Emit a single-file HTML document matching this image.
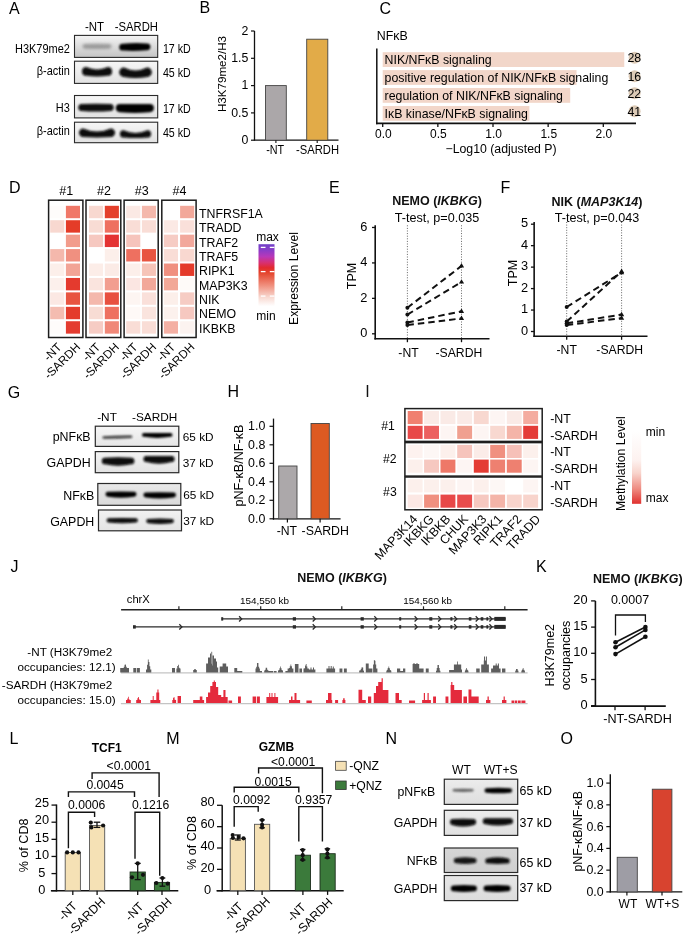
<!DOCTYPE html>
<html><head><meta charset="utf-8"><title>Figure</title>
<style>
html,body{margin:0;padding:0;background:#fff;width:685px;height:936px;overflow:hidden}
svg{display:block;font-family:"Liberation Sans",sans-serif;will-change:transform}
</style></head><body>
<svg width="685" height="936" viewBox="0 0 685 936" font-family="Liberation Sans, sans-serif"><defs><filter id="bl4" x="-20%" y="-50%" width="140%" height="200%"><feGaussianBlur stdDeviation="0.4"/></filter><filter id="bl5" x="-20%" y="-50%" width="140%" height="200%"><feGaussianBlur stdDeviation="0.5"/></filter><filter id="bl6" x="-20%" y="-50%" width="140%" height="200%"><feGaussianBlur stdDeviation="0.6"/></filter><filter id="bl7" x="-20%" y="-50%" width="140%" height="200%"><feGaussianBlur stdDeviation="0.7"/></filter><filter id="bl8" x="-20%" y="-50%" width="140%" height="200%"><feGaussianBlur stdDeviation="0.8"/></filter><filter id="bl9" x="-20%" y="-50%" width="140%" height="200%"><feGaussianBlur stdDeviation="0.9"/></filter><filter id="bl10" x="-20%" y="-50%" width="140%" height="200%"><feGaussianBlur stdDeviation="1.0"/></filter><filter id="bl11" x="-20%" y="-50%" width="140%" height="200%"><feGaussianBlur stdDeviation="1.1"/></filter><filter id="bl12" x="-20%" y="-50%" width="140%" height="200%"><feGaussianBlur stdDeviation="1.2"/></filter><filter id="bl13" x="-20%" y="-50%" width="140%" height="200%"><feGaussianBlur stdDeviation="1.3"/></filter><filter id="bl14" x="-20%" y="-50%" width="140%" height="200%"><feGaussianBlur stdDeviation="1.4"/></filter><filter id="bl15" x="-20%" y="-50%" width="140%" height="200%"><feGaussianBlur stdDeviation="1.5"/></filter><filter id="bl16" x="-20%" y="-50%" width="140%" height="200%"><feGaussianBlur stdDeviation="1.6"/></filter><filter id="bl17" x="-20%" y="-50%" width="140%" height="200%"><feGaussianBlur stdDeviation="1.7"/></filter><filter id="bl18" x="-20%" y="-50%" width="140%" height="200%"><feGaussianBlur stdDeviation="1.8"/></filter><filter id="bl19" x="-20%" y="-50%" width="140%" height="200%"><feGaussianBlur stdDeviation="1.9"/></filter><filter id="bl20" x="-20%" y="-50%" width="140%" height="200%"><feGaussianBlur stdDeviation="2.0"/></filter><filter id="bl21" x="-20%" y="-50%" width="140%" height="200%"><feGaussianBlur stdDeviation="2.1"/></filter><filter id="bl22" x="-20%" y="-50%" width="140%" height="200%"><feGaussianBlur stdDeviation="2.2"/></filter><filter id="bl23" x="-20%" y="-50%" width="140%" height="200%"><feGaussianBlur stdDeviation="2.3"/></filter><filter id="bl24" x="-20%" y="-50%" width="140%" height="200%"><feGaussianBlur stdDeviation="2.4"/></filter><filter id="bl25" x="-20%" y="-50%" width="140%" height="200%"><feGaussianBlur stdDeviation="2.5"/></filter><filter id="bl26" x="-20%" y="-50%" width="140%" height="200%"><feGaussianBlur stdDeviation="2.6"/></filter><filter id="bl27" x="-20%" y="-50%" width="140%" height="200%"><feGaussianBlur stdDeviation="2.7"/></filter><filter id="bl28" x="-20%" y="-50%" width="140%" height="200%"><feGaussianBlur stdDeviation="2.8"/></filter><filter id="bl29" x="-20%" y="-50%" width="140%" height="200%"><feGaussianBlur stdDeviation="2.9"/></filter><filter id="bl30" x="-20%" y="-50%" width="140%" height="200%"><feGaussianBlur stdDeviation="3.0"/></filter></defs><text x="9.00" y="14.20" font-size="16">A</text>
<text x="84.90" y="31.00" font-size="12" transform="matrix(0.955,0,0,1,3.821,0)">-NT</text>
<text x="114.80" y="31.00" font-size="12" transform="matrix(0.94,0,0,1,6.888,0)">-SARDH</text>
<linearGradient id="g3" x1="0" y1="0" x2="0" y2="1"><stop offset="0" stop-color="#f4f4f4"/><stop offset="1" stop-color="#c4c4c4"/></linearGradient>
<rect x="74.50" y="35.40" width="83.20" height="22.00" fill="url(#g3)" />
<linearGradient id="g5" x1="0" y1="0" x2="0" y2="1"><stop offset="0" stop-color="#f6f6f6"/><stop offset="1" stop-color="#e2e2e2"/></linearGradient>
<rect x="74.50" y="61.20" width="83.20" height="22.20" fill="url(#g5)" />
<linearGradient id="g7" x1="0" y1="0" x2="0" y2="1"><stop offset="0" stop-color="#f6f6f6"/><stop offset="1" stop-color="#e2e2e2"/></linearGradient>
<rect x="74.50" y="95.50" width="83.20" height="22.40" fill="url(#g7)" />
<linearGradient id="g9" x1="0" y1="0" x2="0" y2="1"><stop offset="0" stop-color="#f6f6f6"/><stop offset="1" stop-color="#e2e2e2"/></linearGradient>
<rect x="74.50" y="122.20" width="83.20" height="20.50" fill="url(#g9)" />
<text x="69.90" y="52.90" font-size="12.2" text-anchor="end" transform="matrix(0.9,0,0,1,6.990,0)">H3K79me2</text>
<text x="162.90" y="52.60" font-size="12" transform="matrix(0.89,0,0,1,17.919,0)">17 kD</text>
<text x="69.90" y="75.20" font-size="12.2" text-anchor="end" transform="matrix(0.9,0,0,1,6.990,0)">β-actin</text>
<text x="162.90" y="77.00" font-size="12" transform="matrix(0.89,0,0,1,17.919,0)">45 kD</text>
<text x="69.90" y="111.90" font-size="12.2" text-anchor="end" transform="matrix(0.9,0,0,1,6.990,0)">H3</text>
<text x="162.90" y="113.10" font-size="12" transform="matrix(0.89,0,0,1,17.919,0)">17 kD</text>
<text x="69.90" y="135.40" font-size="12.2" text-anchor="end" transform="matrix(0.9,0,0,1,6.990,0)">β-actin</text>
<text x="162.90" y="137.20" font-size="12" transform="matrix(0.89,0,0,1,17.919,0)">45 kD</text>
<path d="M84.84,43.96 Q97.00,43.44 109.16,43.96 A2.34,2.34 0 0 1 109.16,48.64 Q97.00,49.16 84.84,48.64 A2.34,2.34 0 0 1 84.84,43.96 Z" fill="rgb(132,132,132)" opacity="0.75" filter="url(#bl16)"/>
<path d="M122.60,43.80 Q134.80,42.40 147.00,43.40 A3.40,3.40 0 0 1 147.00,50.20 Q134.80,51.60 122.60,50.60 A3.40,3.40 0 0 1 122.60,43.80 Z" fill="rgb(5,5,5)" opacity="1.0" filter="url(#bl11)"/>
<path d="M86.17,67.03 Q97.05,71.97 107.92,67.03 A4.38,4.38 0 0 1 107.92,75.78 Q97.05,77.22 86.17,75.78 A4.38,4.38 0 0 1 86.17,67.03 Z" fill="rgb(10,10,10)" opacity="1.0" filter="url(#bl12)"/>
<path d="M123.89,67.51 Q135.50,73.39 147.11,67.51 A4.69,4.69 0 0 1 147.11,76.89 Q135.50,79.01 123.89,76.89 A4.69,4.69 0 0 1 123.89,67.51 Z" fill="rgb(7,7,7)" opacity="1.0" filter="url(#bl12)"/>
<path d="M81.81,103.89 Q96.00,103.71 110.19,103.89 A3.51,3.51 0 0 1 110.19,110.91 Q96.00,112.29 81.81,110.91 A3.51,3.51 0 0 1 81.81,103.89 Z" fill="rgb(7,7,7)" opacity="1.0" filter="url(#bl12)"/>
<path d="M119.85,104.05 Q134.85,103.75 149.85,104.05 A4.05,4.05 0 0 1 149.85,112.15 Q134.85,113.65 119.85,112.15 A4.05,4.05 0 0 1 119.85,104.05 Z" fill="rgb(5,5,5)" opacity="1.0" filter="url(#bl12)"/>
<path d="M83.20,128.49 Q97.00,134.71 110.80,128.49 A4.21,4.21 0 0 1 110.80,136.91 Q97.00,137.90 83.20,136.91 A4.21,4.21 0 0 1 83.20,128.49 Z" fill="rgb(7,7,7)" opacity="1.0" filter="url(#bl12)"/>
<path d="M123.54,130.26 Q135.50,135.54 147.46,130.26 A3.64,3.64 0 0 1 147.46,137.54 Q135.50,138.66 123.54,137.54 A3.64,3.64 0 0 1 123.54,130.26 Z" fill="rgb(10,10,10)" opacity="1.0" filter="url(#bl12)"/>
<rect x="74.50" y="35.40" width="83.20" height="22.00" fill="none" stroke="#2a2a2a" stroke-width="1.1" />
<rect x="74.50" y="61.20" width="83.20" height="22.20" fill="none" stroke="#2a2a2a" stroke-width="1.1" />
<rect x="74.50" y="95.50" width="83.20" height="22.40" fill="none" stroke="#2a2a2a" stroke-width="1.1" />
<rect x="74.50" y="122.20" width="83.20" height="20.50" fill="none" stroke="#2a2a2a" stroke-width="1.1" />
<text x="199.50" y="13.00" font-size="16">B</text>
<line x1="254.50" y1="31.00" x2="254.50" y2="140.50" stroke="#111" stroke-width="1.3" />
<line x1="253.90" y1="140.20" x2="338.50" y2="140.20" stroke="#111" stroke-width="1.3" />
<line x1="251.00" y1="140.20" x2="254.50" y2="140.20" stroke="#111" stroke-width="1.2" />
<text x="248.40" y="144.00" font-size="12.3" text-anchor="end">0</text>
<line x1="251.00" y1="112.90" x2="254.50" y2="112.90" stroke="#111" stroke-width="1.2" />
<text x="248.40" y="116.70" font-size="12.3" text-anchor="end">0.5</text>
<line x1="251.00" y1="85.60" x2="254.50" y2="85.60" stroke="#111" stroke-width="1.2" />
<text x="248.40" y="89.40" font-size="12.3" text-anchor="end">1</text>
<line x1="251.00" y1="58.30" x2="254.50" y2="58.30" stroke="#111" stroke-width="1.2" />
<text x="248.40" y="62.10" font-size="12.3" text-anchor="end">1.5</text>
<line x1="251.00" y1="31.00" x2="254.50" y2="31.00" stroke="#111" stroke-width="1.2" />
<text x="248.40" y="34.80" font-size="12.3" text-anchor="end">2</text>
<rect x="265.50" y="85.60" width="20.80" height="54.60" fill="#aba7a9" stroke="#444" stroke-width="0.9" />
<rect x="306.70" y="39.20" width="21.10" height="101.00" fill="#e2ab48" stroke="#444" stroke-width="0.9" />
<text x="225.70" y="74.00" font-size="11.6" text-anchor="middle" transform="rotate(-90 225.70 74.00)">H3K79me2/H3</text>
<text x="266.20" y="154.40" font-size="12" transform="matrix(0.9,0,0,1,26.620,0)">-NT</text>
<text x="296.00" y="154.40" font-size="12" transform="matrix(0.935,0,0,1,19.240,0)">-SARDH</text>
<line x1="275.90" y1="140.20" x2="275.90" y2="143.00" stroke="#111" stroke-width="1.1" />
<line x1="317.20" y1="140.20" x2="317.20" y2="143.00" stroke="#111" stroke-width="1.1" />
<text x="379.50" y="13.50" font-size="16">C</text>
<text x="376.80" y="39.60" font-size="12.4">NFκB</text>
<rect x="382.70" y="52.20" width="241.56" height="14.80" fill="#f2d6c9" />
<rect x="382.70" y="70.10" width="193.80" height="14.80" fill="#f2d6c9" />
<rect x="382.70" y="88.00" width="187.51" height="14.80" fill="#f2d6c9" />
<rect x="382.70" y="106.00" width="146.70" height="14.80" fill="#f2d6c9" />
<text x="384.60" y="64.30" font-size="12.35">NIK/NFκB signaling</text>
<circle cx="634.60" cy="57.80" r="6.0" fill="#dccab6" />
<text x="634.30" y="62.40" font-size="12.4" text-anchor="middle">28</text>
<text x="384.60" y="82.20" font-size="12.35">positive regulation of NIK/NFκB signaling</text>
<circle cx="634.60" cy="76.20" r="6.0" fill="#dccab6" />
<text x="634.30" y="80.80" font-size="12.4" text-anchor="middle">16</text>
<text x="384.60" y="100.10" font-size="12.35">regulation of NIK/NFκB signaling</text>
<circle cx="634.60" cy="93.20" r="6.0" fill="#dccab6" />
<text x="634.30" y="97.80" font-size="12.4" text-anchor="middle">22</text>
<text x="384.60" y="118.10" font-size="12.35">IκB kinase/NFκB signaling</text>
<circle cx="634.60" cy="111.30" r="6.0" fill="#dccab6" />
<text x="634.30" y="115.90" font-size="12.4" text-anchor="middle">41</text>
<line x1="376.80" y1="48.40" x2="376.80" y2="124.20" stroke="#111" stroke-width="1.5" />
<line x1="376.00" y1="123.30" x2="636.00" y2="123.30" stroke="#111" stroke-width="1.7" />
<line x1="382.70" y1="123.30" x2="382.70" y2="127.00" stroke="#111" stroke-width="1.3" />
<text x="383.30" y="137.60" font-size="12" text-anchor="middle">0.0</text>
<line x1="437.85" y1="123.30" x2="437.85" y2="127.00" stroke="#111" stroke-width="1.3" />
<text x="438.45" y="137.60" font-size="12" text-anchor="middle">0.5</text>
<line x1="493.00" y1="123.30" x2="493.00" y2="127.00" stroke="#111" stroke-width="1.3" />
<text x="493.60" y="137.60" font-size="12" text-anchor="middle">1.0</text>
<line x1="548.15" y1="123.30" x2="548.15" y2="127.00" stroke="#111" stroke-width="1.3" />
<text x="548.75" y="137.60" font-size="12" text-anchor="middle">1.5</text>
<line x1="603.30" y1="123.30" x2="603.30" y2="127.00" stroke="#111" stroke-width="1.3" />
<text x="603.90" y="137.60" font-size="12" text-anchor="middle">2.0</text>
<text x="501.00" y="153.20" font-size="12.3" text-anchor="middle">−Log10 (adjusted P)</text>
<text x="9.00" y="193.20" font-size="16">D</text>
<rect x="50.20" y="205.80" width="14.10" height="12.40" fill="#fefcfb" />
<rect x="50.20" y="220.23" width="14.10" height="12.40" fill="#f8d8d0" />
<rect x="50.20" y="234.66" width="14.10" height="12.40" fill="#ffffff" />
<rect x="50.20" y="249.09" width="14.10" height="12.40" fill="#f4b8ac" />
<rect x="50.20" y="263.52" width="14.10" height="12.40" fill="#fcefea" />
<rect x="50.20" y="277.95" width="14.10" height="12.40" fill="#fcf0ec" />
<rect x="50.20" y="292.38" width="14.10" height="12.40" fill="#fbe8e3" />
<rect x="50.20" y="306.81" width="14.10" height="12.40" fill="#f4bcb0" />
<rect x="50.20" y="321.24" width="14.10" height="12.40" fill="#fefcfb" />
<rect x="65.90" y="205.80" width="14.10" height="12.40" fill="#f07868" />
<rect x="65.90" y="220.23" width="14.10" height="12.40" fill="#e43c28" />
<rect x="65.90" y="234.66" width="14.10" height="12.40" fill="#f29c8c" />
<rect x="65.90" y="249.09" width="14.10" height="12.40" fill="#f09080" />
<rect x="65.90" y="263.52" width="14.10" height="12.40" fill="#f2a496" />
<rect x="65.90" y="277.95" width="14.10" height="12.40" fill="#e43a2e" />
<rect x="65.90" y="292.38" width="14.10" height="12.40" fill="#e85440" />
<rect x="65.90" y="306.81" width="14.10" height="12.40" fill="#e43c2c" />
<rect x="65.90" y="321.24" width="14.10" height="12.40" fill="#e43c30" />
<rect x="89.00" y="205.80" width="14.10" height="12.40" fill="#f8d8d0" />
<rect x="89.00" y="220.23" width="14.10" height="12.40" fill="#f8dcd4" />
<rect x="89.00" y="234.66" width="14.10" height="12.40" fill="#f6c8c0" />
<rect x="89.00" y="249.09" width="14.10" height="12.40" fill="#ffffff" />
<rect x="89.00" y="263.52" width="14.10" height="12.40" fill="#fcede8" />
<rect x="89.00" y="277.95" width="14.10" height="12.40" fill="#fae4de" />
<rect x="89.00" y="292.38" width="14.10" height="12.40" fill="#f4b8ac" />
<rect x="89.00" y="306.81" width="14.10" height="12.40" fill="#f8dcd4" />
<rect x="89.00" y="321.24" width="14.10" height="12.40" fill="#f6ccc4" />
<rect x="104.80" y="205.80" width="14.10" height="12.40" fill="#e4402c" />
<rect x="104.80" y="220.23" width="14.10" height="12.40" fill="#ee7060" />
<rect x="104.80" y="234.66" width="14.10" height="12.40" fill="#e43434" />
<rect x="104.80" y="249.09" width="14.10" height="12.40" fill="#fcefea" />
<rect x="104.80" y="263.52" width="14.10" height="12.40" fill="#fbebe6" />
<rect x="104.80" y="277.95" width="14.10" height="12.40" fill="#f29e90" />
<rect x="104.80" y="292.38" width="14.10" height="12.40" fill="#e85040" />
<rect x="104.80" y="306.81" width="14.10" height="12.40" fill="#ee7060" />
<rect x="104.80" y="321.24" width="14.10" height="12.40" fill="#f08878" />
<rect x="126.20" y="205.80" width="14.10" height="12.40" fill="#fbe9e4" />
<rect x="126.20" y="220.23" width="14.10" height="12.40" fill="#f9ddd6" />
<rect x="126.20" y="234.66" width="14.10" height="12.40" fill="#f6c4bc" />
<rect x="126.20" y="249.09" width="14.10" height="12.40" fill="#ee7060" />
<rect x="126.20" y="263.52" width="14.10" height="12.40" fill="#fcefea" />
<rect x="126.20" y="277.95" width="14.10" height="12.40" fill="#fbe6e2" />
<rect x="126.20" y="292.38" width="14.10" height="12.40" fill="#fdf5f2" />
<rect x="126.20" y="306.81" width="14.10" height="12.40" fill="#fef9f7" />
<rect x="126.20" y="321.24" width="14.10" height="12.40" fill="#f9ddd6" />
<rect x="141.90" y="205.80" width="14.10" height="12.40" fill="#f4b8ac" />
<rect x="141.90" y="220.23" width="14.10" height="12.40" fill="#f9ddd6" />
<rect x="141.90" y="234.66" width="14.10" height="12.40" fill="#ffffff" />
<rect x="141.90" y="249.09" width="14.10" height="12.40" fill="#e85440" />
<rect x="141.90" y="263.52" width="14.10" height="12.40" fill="#f6c4b8" />
<rect x="141.90" y="277.95" width="14.10" height="12.40" fill="#f2a89a" />
<rect x="141.90" y="292.38" width="14.10" height="12.40" fill="#fae0da" />
<rect x="141.90" y="306.81" width="14.10" height="12.40" fill="#fae4de" />
<rect x="141.90" y="321.24" width="14.10" height="12.40" fill="#f9ddd6" />
<rect x="163.90" y="205.80" width="14.10" height="12.40" fill="#ffffff" />
<rect x="163.90" y="220.23" width="14.10" height="12.40" fill="#fbe9e4" />
<rect x="163.90" y="234.66" width="14.10" height="12.40" fill="#f6ccc4" />
<rect x="163.90" y="249.09" width="14.10" height="12.40" fill="#f9ddd6" />
<rect x="163.90" y="263.52" width="14.10" height="12.40" fill="#f09080" />
<rect x="163.90" y="277.95" width="14.10" height="12.40" fill="#f2a898" />
<rect x="163.90" y="292.38" width="14.10" height="12.40" fill="#fcefea" />
<rect x="163.90" y="306.81" width="14.10" height="12.40" fill="#fcf1ed" />
<rect x="163.90" y="321.24" width="14.10" height="12.40" fill="#f4b0a4" />
<rect x="180.10" y="205.80" width="14.10" height="12.40" fill="#f2a89a" />
<rect x="180.10" y="220.23" width="14.10" height="12.40" fill="#fae0da" />
<rect x="180.10" y="234.66" width="14.10" height="12.40" fill="#f2a89c" />
<rect x="180.10" y="249.09" width="14.10" height="12.40" fill="#f9d8d0" />
<rect x="180.10" y="263.52" width="14.10" height="12.40" fill="#e43a2a" />
<rect x="180.10" y="277.95" width="14.10" height="12.40" fill="#fefaf8" />
<rect x="180.10" y="292.38" width="14.10" height="12.40" fill="#f6ccc4" />
<rect x="180.10" y="306.81" width="14.10" height="12.40" fill="#f6c8c0" />
<rect x="180.10" y="321.24" width="14.10" height="12.40" fill="#fcf3f0" />
<rect x="48.60" y="200.20" width="34.30" height="137.30" fill="none" stroke="#1c1c1c" stroke-width="1.5" />
<text x="66.25" y="194.60" font-size="12.5" text-anchor="middle">#1</text>
<text x="62.30" y="347.80" font-size="11.8" text-anchor="end" transform="rotate(-45 62.30 347.80)">-NT</text>
<text x="81.00" y="347.80" font-size="11.8" text-anchor="end" transform="rotate(-45 81.00 347.80)">-SARDH</text>
<rect x="86.00" y="200.20" width="34.80" height="137.30" fill="none" stroke="#1c1c1c" stroke-width="1.5" />
<text x="103.90" y="194.60" font-size="12.5" text-anchor="middle">#2</text>
<text x="101.10" y="347.80" font-size="11.8" text-anchor="end" transform="rotate(-45 101.10 347.80)">-NT</text>
<text x="119.90" y="347.80" font-size="11.8" text-anchor="end" transform="rotate(-45 119.90 347.80)">-SARDH</text>
<rect x="124.10" y="200.20" width="34.10" height="137.30" fill="none" stroke="#1c1c1c" stroke-width="1.5" />
<text x="141.65" y="194.60" font-size="12.5" text-anchor="middle">#3</text>
<text x="138.30" y="347.80" font-size="11.8" text-anchor="end" transform="rotate(-45 138.30 347.80)">-NT</text>
<text x="157.00" y="347.80" font-size="11.8" text-anchor="end" transform="rotate(-45 157.00 347.80)">-SARDH</text>
<rect x="161.80" y="200.20" width="34.30" height="137.30" fill="none" stroke="#1c1c1c" stroke-width="1.5" />
<text x="179.45" y="194.60" font-size="12.5" text-anchor="middle">#4</text>
<text x="176.00" y="347.80" font-size="11.8" text-anchor="end" transform="rotate(-45 176.00 347.80)">-NT</text>
<text x="195.20" y="347.80" font-size="11.8" text-anchor="end" transform="rotate(-45 195.20 347.80)">-SARDH</text>
<text x="199.00" y="217.90" font-size="12.35">TNFRSF1A</text>
<text x="199.00" y="232.25" font-size="12.35">TRADD</text>
<text x="199.00" y="246.60" font-size="12.35">TRAF2</text>
<text x="199.00" y="260.95" font-size="12.35">TRAF5</text>
<text x="199.00" y="275.30" font-size="12.35">RIPK1</text>
<text x="199.00" y="289.65" font-size="12.35">MAP3K3</text>
<text x="199.00" y="304.00" font-size="12.35">NIK</text>
<text x="199.00" y="318.35" font-size="12.35">NEMO</text>
<text x="199.00" y="332.70" font-size="12.35">IKBKB</text>
<linearGradient id="explg" x1="0" y1="0" x2="0" y2="1"><stop offset="0" stop-color="#7040c8"/><stop offset="0.1" stop-color="#8c3cc8"/><stop offset="0.2" stop-color="#b838b8"/><stop offset="0.3" stop-color="#d83070"/><stop offset="0.38" stop-color="#e22a2e"/><stop offset="0.46" stop-color="#e4442c"/><stop offset="0.66" stop-color="#f08e7c"/><stop offset="0.86" stop-color="#f8dad2"/><stop offset="1" stop-color="#ffffff"/></linearGradient>
<rect x="258.50" y="244.20" width="16.00" height="62.00" fill="url(#explg)" />
<line x1="260.80" y1="247.40" x2="265.50" y2="247.40" stroke="#ffffff" stroke-width="1.3" />
<line x1="269.80" y1="247.40" x2="274.50" y2="247.40" stroke="#ffffff" stroke-width="1.3" />
<line x1="260.80" y1="271.60" x2="265.50" y2="271.60" stroke="#ffffff" stroke-width="1.3" />
<line x1="269.80" y1="271.60" x2="274.50" y2="271.60" stroke="#ffffff" stroke-width="1.3" />
<line x1="260.80" y1="296.10" x2="265.50" y2="296.10" stroke="#ffffff" stroke-width="1.3" />
<line x1="269.80" y1="296.10" x2="274.50" y2="296.10" stroke="#ffffff" stroke-width="1.3" />
<text x="267.50" y="240.50" font-size="12" text-anchor="middle">max</text>
<text x="266.00" y="319.80" font-size="12" text-anchor="middle">min</text>
<text x="297.90" y="278.50" font-size="12.2" text-anchor="middle" transform="rotate(-90 297.90 278.50)">Expression Level</text>
<text x="329.00" y="193.20" font-size="16">E</text>
<line x1="375.20" y1="225.30" x2="375.20" y2="339.50" stroke="#111" stroke-width="1.6" />
<line x1="374.40" y1="338.70" x2="489.50" y2="338.70" stroke="#111" stroke-width="1.6" />
<line x1="372.00" y1="333.80" x2="375.20" y2="333.80" stroke="#111" stroke-width="1.3" />
<text x="367.30" y="337.30" font-size="12.8" text-anchor="end">0</text>
<line x1="372.00" y1="298.36" x2="375.20" y2="298.36" stroke="#111" stroke-width="1.3" />
<text x="367.30" y="301.86" font-size="12.8" text-anchor="end">2</text>
<line x1="372.00" y1="262.92" x2="375.20" y2="262.92" stroke="#111" stroke-width="1.3" />
<text x="367.30" y="266.42" font-size="12.8" text-anchor="end">4</text>
<line x1="372.00" y1="227.48" x2="375.20" y2="227.48" stroke="#111" stroke-width="1.3" />
<text x="367.30" y="230.98" font-size="12.8" text-anchor="end">6</text>
<line x1="407.40" y1="225.30" x2="407.40" y2="338.70" stroke="#555" stroke-width="0.9" stroke-dasharray="1,1.6"/>
<line x1="407.40" y1="338.70" x2="407.40" y2="342.20" stroke="#111" stroke-width="1.3" />
<line x1="461.50" y1="225.30" x2="461.50" y2="338.70" stroke="#555" stroke-width="0.9" stroke-dasharray="1,1.6"/>
<line x1="461.50" y1="338.70" x2="461.50" y2="342.20" stroke="#111" stroke-width="1.3" />
<line x1="407.40" y1="307.80" x2="461.50" y2="265.90" stroke="#111" stroke-width="2.0" stroke-dasharray="6.5,4"/>
<circle cx="407.40" cy="307.80" r="2.0" fill="#111" />
<path d="M461.50,263.10 L464.10,267.50 L458.90,267.50 Z" fill="#111"/>
<line x1="407.40" y1="314.60" x2="461.50" y2="282.00" stroke="#111" stroke-width="2.0" stroke-dasharray="6.5,4"/>
<circle cx="407.40" cy="314.60" r="2.0" fill="#111" />
<path d="M461.50,279.20 L464.10,283.60 L458.90,283.60 Z" fill="#111"/>
<line x1="407.40" y1="322.50" x2="461.50" y2="311.30" stroke="#111" stroke-width="2.0" stroke-dasharray="6.5,4"/>
<circle cx="407.40" cy="322.50" r="2.0" fill="#111" />
<path d="M461.50,308.50 L464.10,312.90 L458.90,312.90 Z" fill="#111"/>
<line x1="407.40" y1="325.00" x2="461.50" y2="318.40" stroke="#111" stroke-width="2.0" stroke-dasharray="6.5,4"/>
<circle cx="407.40" cy="325.00" r="2.0" fill="#111" />
<path d="M461.50,315.60 L464.10,320.00 L458.90,320.00 Z" fill="#111"/>
<text x="437.00" y="205.10" font-size="12.5" font-weight="bold" text-anchor="middle" fill="#111">NEMO (<tspan font-style="italic">IKBKG</tspan>)</text>
<text x="437.00" y="222.00" font-size="12.6" text-anchor="middle">T-test, p=0.035</text>
<text x="356.30" y="276.00" font-size="12.5" text-anchor="middle" transform="rotate(-90 356.30 276.00)">TPM</text>
<text x="408.50" y="356.80" font-size="12.2" text-anchor="middle">-NT</text>
<text x="458.90" y="356.80" font-size="12.2" text-anchor="middle">-SARDH</text>
<text x="500.40" y="193.00" font-size="16">F</text>
<line x1="534.15" y1="222.00" x2="534.15" y2="337.10" stroke="#111" stroke-width="1.6" />
<line x1="533.35" y1="336.30" x2="647.50" y2="336.30" stroke="#111" stroke-width="1.6" />
<line x1="530.95" y1="331.50" x2="534.15" y2="331.50" stroke="#111" stroke-width="1.3" />
<text x="528.10" y="334.70" font-size="12.8" text-anchor="end">0</text>
<line x1="530.95" y1="310.04" x2="534.15" y2="310.04" stroke="#111" stroke-width="1.3" />
<text x="528.10" y="313.24" font-size="12.8" text-anchor="end">1</text>
<line x1="530.95" y1="288.58" x2="534.15" y2="288.58" stroke="#111" stroke-width="1.3" />
<text x="528.10" y="291.78" font-size="12.8" text-anchor="end">2</text>
<line x1="530.95" y1="267.12" x2="534.15" y2="267.12" stroke="#111" stroke-width="1.3" />
<text x="528.10" y="270.32" font-size="12.8" text-anchor="end">3</text>
<line x1="530.95" y1="245.66" x2="534.15" y2="245.66" stroke="#111" stroke-width="1.3" />
<text x="528.10" y="248.86" font-size="12.8" text-anchor="end">4</text>
<line x1="530.95" y1="224.20" x2="534.15" y2="224.20" stroke="#111" stroke-width="1.3" />
<text x="528.10" y="227.40" font-size="12.8" text-anchor="end">5</text>
<line x1="566.70" y1="222.00" x2="566.70" y2="336.30" stroke="#555" stroke-width="0.9" stroke-dasharray="1,1.6"/>
<line x1="566.70" y1="336.30" x2="566.70" y2="339.80" stroke="#111" stroke-width="1.3" />
<line x1="621.60" y1="222.00" x2="621.60" y2="336.30" stroke="#555" stroke-width="0.9" stroke-dasharray="1,1.6"/>
<line x1="621.60" y1="336.30" x2="621.60" y2="339.80" stroke="#111" stroke-width="1.3" />
<line x1="566.70" y1="307.00" x2="621.60" y2="272.60" stroke="#111" stroke-width="2.0" stroke-dasharray="6.5,4"/>
<circle cx="566.70" cy="307.00" r="2.0" fill="#111" />
<path d="M621.60,269.80 L624.20,274.20 L619.00,274.20 Z" fill="#111"/>
<line x1="566.70" y1="321.60" x2="621.60" y2="271.40" stroke="#111" stroke-width="2.0" stroke-dasharray="6.5,4"/>
<circle cx="566.70" cy="321.60" r="2.0" fill="#111" />
<path d="M621.60,268.60 L624.20,273.00 L619.00,273.00 Z" fill="#111"/>
<line x1="566.70" y1="323.30" x2="621.60" y2="314.60" stroke="#111" stroke-width="2.0" stroke-dasharray="6.5,4"/>
<circle cx="566.70" cy="323.30" r="2.0" fill="#111" />
<path d="M621.60,311.80 L624.20,316.20 L619.00,316.20 Z" fill="#111"/>
<line x1="566.70" y1="325.10" x2="621.60" y2="318.10" stroke="#111" stroke-width="2.0" stroke-dasharray="6.5,4"/>
<circle cx="566.70" cy="325.10" r="2.0" fill="#111" />
<path d="M621.60,315.30 L624.20,319.70 L619.00,319.70 Z" fill="#111"/>
<text x="597.00" y="205.60" font-size="12.5" font-weight="bold" text-anchor="middle" fill="#111">NIK (<tspan font-style="italic">MAP3K14</tspan>)</text>
<text x="597.00" y="222.00" font-size="12.6" text-anchor="middle">T-test, p=0.043</text>
<text x="517.00" y="273.00" font-size="12.5" text-anchor="middle" transform="rotate(-90 517.00 273.00)">TPM</text>
<text x="566.70" y="354.40" font-size="12.2" text-anchor="middle">-NT</text>
<text x="619.70" y="354.40" font-size="12.2" text-anchor="middle">-SARDH</text>
<text x="7.80" y="397.70" font-size="16">G</text>
<text x="97.20" y="421.00" font-size="11.8">-NT</text>
<text x="132.00" y="421.00" font-size="11.8">-SARDH</text>
<linearGradient id="g262" x1="0" y1="0" x2="0" y2="1"><stop offset="0" stop-color="#f6f6f6"/><stop offset="1" stop-color="#e6e6e6"/></linearGradient>
<rect x="95.30" y="426.20" width="83.50" height="20.20" fill="url(#g262)" />
<linearGradient id="g264" x1="0" y1="0" x2="0" y2="1"><stop offset="0" stop-color="#f4f4f4"/><stop offset="1" stop-color="#e2e2e2"/></linearGradient>
<rect x="95.30" y="451.60" width="83.50" height="21.10" fill="url(#g264)" />
<linearGradient id="g266" x1="0" y1="0" x2="0" y2="1"><stop offset="0" stop-color="#e8e8e8"/><stop offset="1" stop-color="#dadada"/></linearGradient>
<rect x="97.80" y="483.50" width="83.00" height="21.80" fill="url(#g266)" />
<linearGradient id="g268" x1="0" y1="0" x2="0" y2="1"><stop offset="0" stop-color="#f2f2f2"/><stop offset="1" stop-color="#e4e4e4"/></linearGradient>
<rect x="98.50" y="510.00" width="83.00" height="20.80" fill="url(#g268)" />
<path d="M103.73,436.17 Q117.40,435.43 131.07,435.57 A1.23,1.23 0 0 1 131.07,438.03 Q117.40,438.77 103.73,438.63 A1.23,1.23 0 0 1 103.73,436.17 Z" fill="rgb(12,12,12)" opacity="0.8" filter="url(#bl8)"/>
<path d="M143.92,432.98 Q157.25,433.22 170.58,432.98 A1.92,1.92 0 0 1 170.58,436.82 Q157.25,438.98 143.92,436.82 A1.92,1.92 0 0 1 143.92,432.98 Z" fill="rgb(5,5,5)" opacity="1.0" filter="url(#bl9)"/>
<path d="M105.16,457.64 Q118.10,456.96 131.04,457.64 A3.36,3.36 0 0 1 131.04,464.36 Q118.10,467.04 105.16,464.36 A3.36,3.36 0 0 1 105.16,457.64 Z" fill="rgb(7,7,7)" opacity="1.0" filter="url(#bl11)"/>
<path d="M146.52,455.88 Q159.00,455.92 171.48,455.88 A3.12,3.12 0 0 1 171.48,462.12 Q159.00,465.28 146.52,462.12 A3.12,3.12 0 0 1 146.52,455.88 Z" fill="rgb(7,7,7)" opacity="1.0" filter="url(#bl11)"/>
<path d="M107.98,491.82 Q121.00,491.18 134.02,491.82 A2.48,2.48 0 0 1 134.02,496.78 Q121.00,498.62 107.98,496.78 A2.48,2.48 0 0 1 107.98,491.82 Z" fill="rgb(5,5,5)" opacity="1.0" filter="url(#bl9)"/>
<path d="M145.88,492.52 Q159.70,491.88 173.52,492.52 A2.48,2.48 0 0 1 173.52,497.48 Q159.70,499.32 145.88,497.48 A2.48,2.48 0 0 1 145.88,492.52 Z" fill="rgb(5,5,5)" opacity="1.0" filter="url(#bl9)"/>
<path d="M108.76,518.24 Q122.25,517.56 135.74,518.24 A2.16,2.16 0 0 1 135.74,522.56 Q122.25,524.04 108.76,522.56 A2.16,2.16 0 0 1 108.76,518.24 Z" fill="rgb(7,7,7)" opacity="1.0" filter="url(#bl9)"/>
<path d="M148.36,518.94 Q160.05,518.26 171.74,518.94 A2.16,2.16 0 0 1 171.74,523.26 Q160.05,524.74 148.36,523.26 A2.16,2.16 0 0 1 148.36,518.94 Z" fill="rgb(7,7,7)" opacity="1.0" filter="url(#bl9)"/>
<rect x="95.30" y="426.20" width="83.50" height="20.20" fill="none" stroke="#2a2a2a" stroke-width="1.2" />
<rect x="95.30" y="451.60" width="83.50" height="21.10" fill="none" stroke="#2a2a2a" stroke-width="1.2" />
<rect x="97.80" y="483.50" width="83.00" height="21.80" fill="none" stroke="#2a2a2a" stroke-width="1.2" />
<rect x="98.50" y="510.00" width="83.00" height="20.80" fill="none" stroke="#2a2a2a" stroke-width="1.2" />
<text x="90.60" y="440.90" font-size="12.4" text-anchor="end">pNFκB</text>
<text x="182.80" y="440.70" font-size="11.8">65 kD</text>
<text x="90.60" y="466.75" font-size="12.4" text-anchor="end">GAPDH</text>
<text x="182.80" y="466.55" font-size="11.8">37 kD</text>
<text x="94.30" y="500.40" font-size="12.4" text-anchor="end">NFκB</text>
<text x="183.30" y="498.80" font-size="11.8">65 kD</text>
<text x="94.30" y="525.50" font-size="12.4" text-anchor="end">GAPDH</text>
<text x="183.30" y="524.80" font-size="11.8">37 kD</text>
<text x="227.60" y="396.60" font-size="16">H</text>
<line x1="273.50" y1="418.60" x2="273.50" y2="519.60" stroke="#111" stroke-width="1.3" />
<line x1="272.90" y1="518.80" x2="340.60" y2="518.80" stroke="#111" stroke-width="1.3" />
<line x1="269.50" y1="518.80" x2="273.50" y2="518.80" stroke="#111" stroke-width="1.2" />
<text x="265.30" y="522.80" font-size="12.4" text-anchor="end">0.0</text>
<line x1="269.50" y1="500.30" x2="273.50" y2="500.30" stroke="#111" stroke-width="1.2" />
<text x="265.30" y="504.30" font-size="12.4" text-anchor="end">0.2</text>
<line x1="269.50" y1="481.80" x2="273.50" y2="481.80" stroke="#111" stroke-width="1.2" />
<text x="265.30" y="485.80" font-size="12.4" text-anchor="end">0.4</text>
<line x1="269.50" y1="463.30" x2="273.50" y2="463.30" stroke="#111" stroke-width="1.2" />
<text x="265.30" y="467.30" font-size="12.4" text-anchor="end">0.6</text>
<line x1="269.50" y1="444.80" x2="273.50" y2="444.80" stroke="#111" stroke-width="1.2" />
<text x="265.30" y="448.80" font-size="12.4" text-anchor="end">0.8</text>
<line x1="269.50" y1="426.30" x2="273.50" y2="426.30" stroke="#111" stroke-width="1.2" />
<text x="265.30" y="430.30" font-size="12.4" text-anchor="end">1.0</text>
<rect x="278.70" y="466.00" width="18.30" height="52.80" fill="#aca8aa" stroke="#444" stroke-width="0.9" />
<rect x="311.00" y="423.50" width="18.30" height="95.30" fill="#dd5a22" stroke="#444" stroke-width="0.9" />
<line x1="287.40" y1="518.80" x2="287.40" y2="522.50" stroke="#111" stroke-width="1.2" />
<line x1="320.10" y1="518.80" x2="320.10" y2="522.50" stroke="#111" stroke-width="1.2" />
<text x="243.40" y="465.60" font-size="12.6" text-anchor="middle" transform="rotate(-90 243.40 465.60)">pNF-κB/NF-κB</text>
<text x="276.70" y="534.90" font-size="12.2">-NT</text>
<text x="301.60" y="534.90" font-size="12.35">-SARDH</text>
<text x="365.2" y="397.0" font-size="16" fill="#111">I</text>
<rect x="407.70" y="411.00" width="14.90" height="13.10" fill="#f08070" />
<rect x="424.10" y="411.00" width="14.90" height="13.10" fill="#faeae6" />
<rect x="440.50" y="411.00" width="14.90" height="13.10" fill="#faeae6" />
<rect x="457.20" y="411.00" width="14.90" height="13.10" fill="#faeae6" />
<rect x="473.80" y="411.00" width="14.90" height="13.10" fill="#f8d8d0" />
<rect x="490.20" y="411.00" width="14.90" height="13.10" fill="#fdf5f3" />
<rect x="506.80" y="411.00" width="14.90" height="13.10" fill="#faeae6" />
<rect x="523.20" y="411.00" width="14.90" height="13.10" fill="#f4aca0" />
<rect x="407.70" y="425.80" width="14.90" height="13.10" fill="#e84848" />
<rect x="424.10" y="425.80" width="14.90" height="13.10" fill="#ec6060" />
<rect x="440.50" y="425.80" width="14.90" height="13.10" fill="#fdf5f3" />
<rect x="457.20" y="425.80" width="14.90" height="13.10" fill="#f0a090" />
<rect x="473.80" y="425.80" width="14.90" height="13.10" fill="#fdf5f3" />
<rect x="490.20" y="425.80" width="14.90" height="13.10" fill="#f8d8d0" />
<rect x="506.80" y="425.80" width="14.90" height="13.10" fill="#f4b4a8" />
<rect x="523.20" y="425.80" width="14.90" height="13.10" fill="#e43c38" />
<rect x="407.70" y="444.90" width="14.90" height="13.10" fill="#fdf2ef" />
<rect x="424.10" y="444.90" width="14.90" height="13.10" fill="#fdf7f5" />
<rect x="440.50" y="444.90" width="14.90" height="13.10" fill="#fcf0ec" />
<rect x="457.20" y="444.90" width="14.90" height="13.10" fill="#f6c4bc" />
<rect x="473.80" y="444.90" width="14.90" height="13.10" fill="#fbece8" />
<rect x="490.20" y="444.90" width="14.90" height="13.10" fill="#f09080" />
<rect x="506.80" y="444.90" width="14.90" height="13.10" fill="#f6c0b8" />
<rect x="523.20" y="444.90" width="14.90" height="13.10" fill="#fcf0ec" />
<rect x="407.70" y="459.60" width="14.90" height="13.10" fill="#fcf0ec" />
<rect x="424.10" y="459.60" width="14.90" height="13.10" fill="#f6c8c0" />
<rect x="440.50" y="459.60" width="14.90" height="13.10" fill="#ee7868" />
<rect x="457.20" y="459.60" width="14.90" height="13.10" fill="#fdf5f3" />
<rect x="473.80" y="459.60" width="14.90" height="13.10" fill="#e43c34" />
<rect x="490.20" y="459.60" width="14.90" height="13.10" fill="#ee8070" />
<rect x="506.80" y="459.60" width="14.90" height="13.10" fill="#ee8070" />
<rect x="523.20" y="459.60" width="14.90" height="13.10" fill="#fdf5f3" />
<rect x="407.70" y="479.30" width="14.90" height="13.10" fill="#fcf0ec" />
<rect x="424.10" y="479.30" width="14.90" height="13.10" fill="#fcf0ec" />
<rect x="440.50" y="479.30" width="14.90" height="13.10" fill="#fcf0ec" />
<rect x="457.20" y="479.30" width="14.90" height="13.10" fill="#fdf5f3" />
<rect x="473.80" y="479.30" width="14.90" height="13.10" fill="#fcf0ec" />
<rect x="490.20" y="479.30" width="14.90" height="13.10" fill="#fdf7f5" />
<rect x="506.80" y="479.30" width="14.90" height="13.10" fill="#ffffff" />
<rect x="523.20" y="479.30" width="14.90" height="13.10" fill="#fdf5f3" />
<rect x="407.70" y="494.60" width="14.90" height="13.10" fill="#fce8e4" />
<rect x="424.10" y="494.60" width="14.90" height="13.10" fill="#f09080" />
<rect x="440.50" y="494.60" width="14.90" height="13.10" fill="#e84848" />
<rect x="457.20" y="494.60" width="14.90" height="13.10" fill="#e84c4c" />
<rect x="473.80" y="494.60" width="14.90" height="13.10" fill="#f6c8c0" />
<rect x="490.20" y="494.60" width="14.90" height="13.10" fill="#f4b4a8" />
<rect x="506.80" y="494.60" width="14.90" height="13.10" fill="#f8d4cc" />
<rect x="523.20" y="494.60" width="14.90" height="13.10" fill="#f8d4cc" />
<rect x="404.90" y="408.60" width="137.30" height="32.80" fill="none" stroke="#1e1e1e" stroke-width="1.5" />
<rect x="404.90" y="442.60" width="137.30" height="33.50" fill="none" stroke="#1e1e1e" stroke-width="1.5" />
<rect x="404.90" y="477.00" width="137.30" height="32.80" fill="none" stroke="#1e1e1e" stroke-width="1.5" />
<text x="388.10" y="429.50" font-size="12.2" text-anchor="middle">#1</text>
<text x="389.80" y="463.20" font-size="12.2" text-anchor="middle">#2</text>
<text x="389.90" y="496.40" font-size="12.2" text-anchor="middle">#3</text>
<text x="550.20" y="423.10" font-size="12.4">-NT</text>
<text x="550.20" y="439.90" font-size="12.4">-SARDH</text>
<text x="550.20" y="456.40" font-size="12.4">-NT</text>
<text x="550.20" y="473.30" font-size="12.4">-SARDH</text>
<text x="550.20" y="490.20" font-size="12.4">-NT</text>
<text x="550.20" y="506.80" font-size="12.4">-SARDH</text>
<text x="418.15" y="519.60" font-size="12.4" text-anchor="end" transform="rotate(-47 418.15 519.60)">MAP3K14</text>
<text x="434.55" y="519.60" font-size="12.4" text-anchor="end" transform="rotate(-47 434.55 519.60)">IKBKG</text>
<text x="451.15" y="519.60" font-size="12.4" text-anchor="end" transform="rotate(-47 451.15 519.60)">IKBKB</text>
<text x="468.85" y="519.60" font-size="12.4" text-anchor="end" transform="rotate(-47 468.85 519.60)">CHUK</text>
<text x="487.25" y="519.60" font-size="12.4" text-anchor="end" transform="rotate(-47 487.25 519.60)">MAP3K3</text>
<text x="503.15" y="519.60" font-size="12.4" text-anchor="end" transform="rotate(-47 503.15 519.60)">RIPK1</text>
<text x="522.25" y="519.60" font-size="12.4" text-anchor="end" transform="rotate(-47 522.25 519.60)">TRAF2</text>
<text x="541.15" y="519.60" font-size="12.4" text-anchor="end" transform="rotate(-47 541.15 519.60)">TRADD</text>
<linearGradient id="methlg" x1="0" y1="0" x2="0" y2="1"><stop offset="0" stop-color="#ffffff"/><stop offset="0.4" stop-color="#fdf2f0"/><stop offset="0.58" stop-color="#f8d4cc"/><stop offset="0.8" stop-color="#ee8a80"/><stop offset="1" stop-color="#e0302e"/></linearGradient>
<rect x="632.00" y="430.80" width="9.20" height="73.00" fill="url(#methlg)" />
<text x="625.50" y="463.60" font-size="12.2" text-anchor="middle" transform="rotate(-90 625.50 463.60)">Methylation Level</text>
<text x="645.80" y="435.50" font-size="12">min</text>
<text x="645.80" y="502.40" font-size="12">max</text>
<text x="10.50" y="572.30" font-size="16">J</text>
<text x="342.0" y="582.2" font-size="12.5" font-weight="bold" text-anchor="middle" fill="#111">NEMO (<tspan font-style="italic">IKBKG</tspan>)</text>
<text x="126.80" y="602.50" font-size="11.2">chrX</text>
<text x="239.90" y="603.90" font-size="9.95">154,550 kb</text>
<text x="403.30" y="603.90" font-size="9.85">154,560 kb</text>
<line x1="121.10" y1="609.70" x2="527.60" y2="609.70" stroke="#222" stroke-width="1.4" />
<line x1="178.90" y1="606.30" x2="178.90" y2="609.70" stroke="#222" stroke-width="1.2" />
<line x1="260.70" y1="606.30" x2="260.70" y2="609.70" stroke="#222" stroke-width="1.2" />
<line x1="341.80" y1="606.30" x2="341.80" y2="609.70" stroke="#222" stroke-width="1.2" />
<line x1="423.50" y1="606.30" x2="423.50" y2="609.70" stroke="#222" stroke-width="1.2" />
<line x1="504.80" y1="606.30" x2="504.80" y2="609.70" stroke="#222" stroke-width="1.2" />
<line x1="222.20" y1="618.90" x2="505.70" y2="618.90" stroke="#2a2a2a" stroke-width="1.4" />
<line x1="134.30" y1="626.90" x2="505.70" y2="626.90" stroke="#2a2a2a" stroke-width="1.4" />
<rect x="221.20" y="617.20" width="2.00" height="3.40" fill="#2a2a2a" />
<rect x="133.00" y="625.20" width="2.80" height="3.40" fill="#2a2a2a" />
<path d="M239.10,616.30 L241.70,618.90 L239.10,621.50" fill="none" stroke="#2a2a2a" stroke-width="1.3"/>
<path d="M312.70,616.30 L315.30,618.90 L312.70,621.50" fill="none" stroke="#2a2a2a" stroke-width="1.3"/>
<path d="M374.30,616.30 L376.90,618.90 L374.30,621.50" fill="none" stroke="#2a2a2a" stroke-width="1.3"/>
<path d="M414.60,616.30 L417.20,618.90 L414.60,621.50" fill="none" stroke="#2a2a2a" stroke-width="1.3"/>
<path d="M438.20,616.30 L440.80,618.90 L438.20,621.50" fill="none" stroke="#2a2a2a" stroke-width="1.3"/>
<path d="M454.20,616.30 L456.80,618.90 L454.20,621.50" fill="none" stroke="#2a2a2a" stroke-width="1.3"/>
<path d="M475.70,616.30 L478.30,618.90 L475.70,621.50" fill="none" stroke="#2a2a2a" stroke-width="1.3"/>
<path d="M489.40,616.30 L492.00,618.90 L489.40,621.50" fill="none" stroke="#2a2a2a" stroke-width="1.3"/>
<path d="M179.30,624.30 L181.90,626.90 L179.30,629.50" fill="none" stroke="#2a2a2a" stroke-width="1.3"/>
<path d="M312.70,624.30 L315.30,626.90 L312.70,629.50" fill="none" stroke="#2a2a2a" stroke-width="1.3"/>
<path d="M374.30,624.30 L376.90,626.90 L374.30,629.50" fill="none" stroke="#2a2a2a" stroke-width="1.3"/>
<path d="M414.60,624.30 L417.20,626.90 L414.60,629.50" fill="none" stroke="#2a2a2a" stroke-width="1.3"/>
<path d="M438.20,624.30 L440.80,626.90 L438.20,629.50" fill="none" stroke="#2a2a2a" stroke-width="1.3"/>
<path d="M454.20,624.30 L456.80,626.90 L454.20,629.50" fill="none" stroke="#2a2a2a" stroke-width="1.3"/>
<path d="M475.70,624.30 L478.30,626.90 L475.70,629.50" fill="none" stroke="#2a2a2a" stroke-width="1.3"/>
<path d="M489.40,624.30 L492.00,626.90 L489.40,629.50" fill="none" stroke="#2a2a2a" stroke-width="1.3"/>
<rect x="292.80" y="617.20" width="3.20" height="3.40" fill="#2a2a2a" />
<rect x="360.60" y="617.20" width="3.20" height="3.40" fill="#2a2a2a" />
<rect x="399.20" y="617.20" width="2.00" height="3.40" fill="#2a2a2a" />
<rect x="429.30" y="617.20" width="3.00" height="3.40" fill="#2a2a2a" />
<rect x="450.40" y="617.20" width="2.00" height="3.40" fill="#2a2a2a" />
<rect x="468.80" y="617.20" width="2.60" height="3.40" fill="#2a2a2a" />
<rect x="480.70" y="617.20" width="2.60" height="3.40" fill="#2a2a2a" />
<rect x="486.40" y="617.20" width="1.80" height="3.40" fill="#2a2a2a" />
<rect x="494.30" y="616.90" width="11.40" height="4.00" fill="#2a2a2a" />
<rect x="292.80" y="625.20" width="3.20" height="3.40" fill="#2a2a2a" />
<rect x="360.60" y="625.20" width="3.20" height="3.40" fill="#2a2a2a" />
<rect x="399.20" y="625.20" width="2.00" height="3.40" fill="#2a2a2a" />
<rect x="429.30" y="625.20" width="3.00" height="3.40" fill="#2a2a2a" />
<rect x="450.40" y="625.20" width="2.00" height="3.40" fill="#2a2a2a" />
<rect x="468.80" y="625.20" width="2.60" height="3.40" fill="#2a2a2a" />
<rect x="480.70" y="625.20" width="2.60" height="3.40" fill="#2a2a2a" />
<rect x="486.40" y="625.20" width="1.80" height="3.40" fill="#2a2a2a" />
<rect x="494.30" y="624.90" width="11.40" height="4.00" fill="#2a2a2a" />
<text x="112.20" y="656.40" font-size="11.7" text-anchor="end">-NT (H3K79me2</text>
<text x="115.60" y="670.90" font-size="11.7" text-anchor="end">occupancies: 12.1)</text>
<text x="112.20" y="689.30" font-size="11.7" text-anchor="end">-SARDH (H3K79me2</text>
<text x="115.60" y="703.70" font-size="11.7" text-anchor="end">occupancies: 15.0)</text>
<line x1="120.90" y1="672.90" x2="527.60" y2="672.90" stroke="#c4c4c4" stroke-width="1.1" />
<line x1="120.90" y1="703.60" x2="527.60" y2="703.60" stroke="#c4c4c4" stroke-width="1.1" />
<path d="M120.2,672.4V668.0H129.0V672.4ZM122.30,672.4V671.29H123.04V672.4ZM123.04,672.4V669.08H123.77V672.4ZM123.77,672.4V666.87H124.51V672.4ZM124.51,672.4V664.66H125.25V672.4ZM125.25,672.4V664.39H125.99V672.4ZM125.99,672.4V666.68H126.72V672.4ZM126.72,672.4V668.97H127.46V672.4ZM127.46,672.4V671.26H128.20V672.4ZM133.3,672.4V668.0H136.3V672.4ZM137.0,672.4V668.0H139.9V672.4ZM146.0,672.4V669.4H151.3V672.4ZM146.30,672.4V669.84H147.08V672.4ZM147.08,672.4V664.73H147.87V672.4ZM147.87,672.4V659.62H148.65V672.4ZM148.65,672.4V662.08H149.43V672.4ZM149.43,672.4V666.21H150.22V672.4ZM150.22,672.4V670.34H151.00V672.4ZM172.0,672.4V668.0H175.0V672.4ZM176.4,672.4V668.4H180.5V672.4ZM176.40,672.4V670.23H177.22V672.4ZM177.22,672.4V665.89H178.04V672.4ZM178.04,672.4V664.71H178.86V672.4ZM178.86,672.4V667.79H179.68V672.4ZM179.68,672.4V670.86H180.50V672.4ZM193.2,672.4V669.9H196.8V672.4ZM193.50,672.4V671.27H194.25V672.4ZM194.25,672.4V669.02H195.00V672.4ZM195.00,672.4V669.02H195.75V672.4ZM195.75,672.4V671.27H196.50V672.4ZM206.1,672.4V663.4H208.0V672.4ZM208.0,672.4V657.4H210.0V672.4ZM210.0,672.4V653.4H211.0V672.4ZM210.50,672.4V663.69H211.33V672.4ZM211.33,672.4V651.86H212.17V672.4ZM212.17,672.4V665.55H213.00V672.4ZM212.5,672.4V655.4H214.0V672.4ZM214.0,672.4V658.4H216.0V672.4ZM216.0,672.4V661.4H217.0V672.4ZM217.0,672.4V667.4H218.2V672.4ZM219.7,672.4V666.4H222.6V672.4ZM222.6,672.4V663.4H224.5V672.4ZM224.30,672.4V664.41H225.35V672.4ZM225.35,672.4V666.41H226.40V672.4ZM224.5,672.4V663.4H226.2V672.4ZM226.2,672.4V666.4H228.0V672.4ZM234.3,672.4V668.0H237.2V672.4ZM237.2,672.4V670.9H242.3V672.4ZM255.5,672.4V668.4H259.9V672.4ZM255.50,672.4V670.53H256.23V672.4ZM256.23,672.4V666.80H256.97V672.4ZM256.97,672.4V663.07H257.70V672.4ZM257.70,672.4V663.07H258.43V672.4ZM258.43,672.4V666.80H259.17V672.4ZM259.17,672.4V670.53H259.90V672.4ZM259.9,672.4V670.9H262.0V672.4ZM264.2,672.4V670.4H268.6V672.4ZM264.20,672.4V671.48H264.93V672.4ZM264.93,672.4V669.65H265.67V672.4ZM265.67,672.4V667.82H266.40V672.4ZM266.40,672.4V667.82H267.13V672.4ZM267.13,672.4V669.65H267.87V672.4ZM267.87,672.4V671.48H268.60V672.4ZM268.6,672.4V670.9H273.0V672.4ZM273.7,672.4V670.9H276.6V672.4ZM278.0,672.4V670.4H283.0V672.4ZM278.00,672.4V671.57H278.71V672.4ZM278.71,672.4V669.91H279.43V672.4ZM279.43,672.4V668.26H280.14V672.4ZM280.14,672.4V666.60H280.86V672.4ZM280.86,672.4V668.26H281.57V672.4ZM281.57,672.4V669.91H282.29V672.4ZM282.29,672.4V671.57H283.00V672.4ZM285.4,672.4V670.9H287.6V672.4ZM287.6,672.4V668.4H293.4V672.4ZM287.60,672.4V671.52H288.33V672.4ZM288.33,672.4V669.75H289.05V672.4ZM289.05,672.4V667.98H289.77V672.4ZM289.77,672.4V666.21H290.50V672.4ZM290.50,672.4V664.44H291.23V672.4ZM291.23,672.4V666.13H291.95V672.4ZM291.95,672.4V668.64H292.67V672.4ZM292.67,672.4V671.15H293.40V672.4ZM294.9,672.4V664.1H298.5V672.4ZM299.4,672.4V668.4H302.0V672.4ZM303.5,672.4V668.4H308.9V672.4ZM303.50,672.4V671.01H304.27V672.4ZM304.27,672.4V668.23H305.04V672.4ZM305.04,672.4V665.46H305.81V672.4ZM305.81,672.4V664.02H306.59V672.4ZM306.59,672.4V666.41H307.36V672.4ZM307.36,672.4V668.81H308.13V672.4ZM308.13,672.4V671.20H308.90V672.4ZM308.9,672.4V669.4H315.4V672.4ZM310.5,672.4V667.4H311.5V672.4ZM313.0,672.4V667.4H314.0V672.4ZM326.4,672.4V668.4H335.1V672.4ZM328.5,672.4V665.9H329.5V672.4ZM330.7,672.4V665.9H331.7V672.4ZM332.8,672.4V666.4H333.8V672.4ZM339.5,672.4V668.4H342.4V672.4ZM343.9,672.4V668.4H346.8V672.4ZM359.2,672.4V670.4H363.6V672.4ZM359.20,672.4V671.60H360.00V672.4ZM360.00,672.4V670.22H360.80V672.4ZM360.80,672.4V668.76H361.60V672.4ZM361.60,672.4V667.31H362.40V672.4ZM362.40,672.4V667.60H363.20V672.4ZM363.20,672.4V670.80H364.00V672.4ZM365.8,672.4V663.4H368.7V672.4ZM368.7,672.4V668.4H372.4V672.4ZM373.1,672.4V664.4H376.2V672.4ZM373.10,672.4V668.27H373.88V672.4ZM373.88,672.4V660.00H374.65V672.4ZM374.65,672.4V660.78H375.43V672.4ZM375.43,672.4V668.52H376.20V672.4ZM376.0,672.4V668.4H377.4V672.4ZM386.20,672.4V671.51H386.94V672.4ZM386.94,672.4V669.73H387.69V672.4ZM387.69,672.4V667.94H388.43V672.4ZM388.43,672.4V666.62H389.17V672.4ZM389.17,672.4V668.27H389.91V672.4ZM389.91,672.4V669.92H390.66V672.4ZM390.66,672.4V671.57H391.40V672.4ZM386.5,672.4V670.4H391.2V672.4ZM397.0,672.4V668.4H400.2V672.4ZM400.2,672.4V670.9H403.0V672.4ZM403.0,672.4V668.4H405.3V672.4ZM412.6,672.4V664.1H419.2V672.4ZM413.5,672.4V662.9H414.5V672.4ZM416.5,672.4V662.9H417.5V672.4ZM419.2,672.4V668.4H423.6V672.4ZM425.8,672.4V668.4H428.7V672.4ZM436.00,672.4V670.90H436.73V672.4ZM436.73,672.4V667.90H437.47V672.4ZM437.47,672.4V664.90H438.20V672.4ZM438.20,672.4V664.90H438.93V672.4ZM438.93,672.4V667.90H439.67V672.4ZM439.67,672.4V670.90H440.40V672.4ZM436.3,672.4V670.4H440.2V672.4ZM449.1,672.4V669.9H453.9V672.4ZM453.9,672.4V664.4H461.2V672.4ZM456.30,672.4V668.73H457.10V672.4ZM457.10,672.4V661.40H457.90V672.4ZM457.90,672.4V668.73H458.70V672.4ZM461.2,672.4V669.4H462.0V672.4ZM464.80,672.4V671.48H465.54V672.4ZM465.54,672.4V669.62H466.28V672.4ZM466.28,672.4V668.02H467.02V672.4ZM467.02,672.4V669.77H467.76V672.4ZM467.76,672.4V671.52H468.50V672.4ZM465.0,672.4V670.4H468.3V672.4ZM476.2,672.4V668.4H479.7V672.4ZM481.2,672.4V664.4H483.8V672.4ZM483.8,672.4V660.4H486.9V672.4ZM484.0,672.4V656.4H485.0V672.4ZM485.9,672.4V656.4H486.9V672.4ZM486.7,672.4V664.4H488.9V672.4ZM491.1,672.4V668.4H500.6V672.4ZM493.0,672.4V665.4H499.0V672.4ZM495.7,672.4V663.4H496.7V672.4ZM497.9,672.4V663.4H498.9V672.4ZM502.0,672.4V668.4H505.4V672.4ZM515.20,672.4V671.24H516.03V672.4ZM516.03,672.4V668.92H516.85V672.4ZM516.85,672.4V669.12H517.67V672.4ZM517.67,672.4V671.31H518.50V672.4ZM515.4,672.4V670.4H518.3V672.4ZM521.30,672.4V671.48H522.04V672.4ZM522.04,672.4V669.62H522.78V672.4ZM522.78,672.4V668.02H523.52V672.4ZM523.52,672.4V669.77H524.26V672.4ZM524.26,672.4V671.52H525.00V672.4ZM521.5,672.4V670.4H524.8V672.4Z" fill="#5e5e5e"/>
<path d="M126.0,703.1V700.1H130.8V703.1ZM126.50,703.1V701.56H127.26V703.1ZM127.26,703.1V698.47H128.02V703.1ZM128.02,703.1V696.86H128.78V703.1ZM128.78,703.1V699.35H129.54V703.1ZM129.54,703.1V701.85H130.30V703.1ZM136.2,703.1V700.1H141.0V703.1ZM136.50,703.1V701.49H137.34V703.1ZM137.34,703.1V698.27H138.18V703.1ZM138.18,703.1V697.06H139.02V703.1ZM139.02,703.1V699.48H139.86V703.1ZM139.86,703.1V701.89H140.70V703.1ZM150.4,703.1V700.1H160.3V703.1ZM152.7,703.1V696.1H153.7V703.1ZM156.3,703.1V692.6H159.2V703.1ZM157.4,703.1V689.4H158.5V703.1ZM172.3,703.1V700.1H176.1V703.1ZM172.30,703.1V701.33H173.06V703.1ZM173.06,703.1V697.78H173.82V703.1ZM173.82,703.1V697.32H174.58V703.1ZM174.58,703.1V699.63H175.34V703.1ZM175.34,703.1V701.94H176.10V703.1ZM177.6,703.1V696.1H181.0V703.1ZM193.2,703.1V700.1H204.1V703.1ZM199.8,703.1V696.6H202.4V703.1ZM206.1,703.1V697.1H208.0V703.1ZM208.0,703.1V692.6H210.2V703.1ZM210.2,703.1V686.1H212.4V703.1ZM212.4,703.1V682.1H216.0V703.1ZM213.8,703.1V680.6H214.8V703.1ZM216.0,703.1V687.1H218.2V703.1ZM218.2,703.1V695.1H221.2V703.1ZM221.2,703.1V697.1H223.4V703.1ZM223.4,703.1V690.1H225.5V703.1ZM225.5,703.1V697.1H227.7V703.1ZM228.5,703.1V700.6H232.1V703.1ZM238.0,703.1V696.6H240.9V703.1ZM252.6,703.1V696.6H256.2V703.1ZM257.0,703.1V696.6H259.9V703.1ZM266.4,703.1V697.1H278.1V703.1ZM269.2,703.1V693.1H270.2V703.1ZM271.5,703.1V693.1H272.5V703.1ZM274.4,703.1V693.1H275.4V703.1ZM289.0,703.1V700.1H300.1V703.1ZM291.0,703.1V696.6H292.5V703.1ZM294.5,703.1V693.1H296.5V703.1ZM306.4,703.1V700.6H311.8V703.1ZM326.0,703.1V700.1H332.2V703.1ZM328.0,703.1V693.1H331.5V703.1ZM335.1,703.1V700.1H338.1V703.1ZM342.4,703.1V700.1H345.4V703.1ZM342.40,703.1V701.48H343.15V703.1ZM343.15,703.1V698.23H343.90V703.1ZM343.90,703.1V698.23H344.65V703.1ZM344.65,703.1V701.48H345.40V703.1ZM358.5,703.1V689.7H362.2V703.1ZM362.2,703.1V700.1H365.8V703.1ZM368.0,703.1V696.6H371.2V703.1ZM373.8,703.1V693.1H376.0V703.1ZM376.0,703.1V686.1H378.2V703.1ZM378.2,703.1V682.1H382.8V703.1ZM381.6,703.1V678.3H382.8V703.1ZM382.8,703.1V690.1H385.6V703.1ZM385.6,703.1V690.1H388.4V703.1ZM385.0,703.1V695.1H385.8V703.1ZM395.5,703.1V693.1H399.0V703.1ZM399.0,703.1V700.1H401.7V703.1ZM409.0,703.1V700.6H415.1V703.1ZM422.1,703.1V700.1H430.9V703.1ZM423.8,703.1V693.1H425.0V703.1ZM427.5,703.1V693.1H428.7V703.1ZM433.1,703.1V696.6H436.0V703.1ZM445.5,703.1V696.6H448.4V703.1ZM450.6,703.1V685.1H454.2V703.1ZM451.2,703.1V682.1H452.4V703.1ZM454.2,703.1V690.1H461.9V703.1ZM456.5,703.1V694.1H457.2V703.1ZM459.3,703.1V693.1H460.0V703.1ZM463.4,703.1V696.6H467.0V703.1ZM468.5,703.1V689.6H471.4V703.1ZM471.4,703.1V696.6H478.7V703.1ZM473.5,703.1V700.1H474.3V703.1ZM486.0,703.1V700.1H490.4V703.1ZM487.5,703.1V696.6H488.8V703.1ZM502.0,703.1V700.1H506.4V703.1ZM503.6,703.1V696.6H504.8V703.1ZM511.5,703.1V700.6H514.0V703.1ZM514.6,703.1V700.6H517.3V703.1ZM518.0,703.1V700.6H520.7V703.1ZM521.4,703.1V700.6H525.4V703.1Z" fill="#e42a3c"/>
<text x="536.00" y="571.50" font-size="16">K</text>
<text x="637.8" y="582.8" font-size="12.5" font-weight="bold" text-anchor="middle" fill="#111">NEMO (<tspan font-style="italic">IKBKG</tspan>)</text>
<line x1="595.40" y1="600.90" x2="595.40" y2="706.80" stroke="#111" stroke-width="1.6" />
<line x1="591.00" y1="706.10" x2="665.80" y2="706.10" stroke="#111" stroke-width="1.6" />
<line x1="591.10" y1="705.70" x2="595.40" y2="705.70" stroke="#111" stroke-width="1.3" />
<text x="587.60" y="708.70" font-size="12.8" text-anchor="end">0</text>
<line x1="591.10" y1="679.50" x2="595.40" y2="679.50" stroke="#111" stroke-width="1.3" />
<text x="587.60" y="682.50" font-size="12.8" text-anchor="end">5</text>
<line x1="591.10" y1="653.30" x2="595.40" y2="653.30" stroke="#111" stroke-width="1.3" />
<text x="587.60" y="656.30" font-size="12.8" text-anchor="end">10</text>
<line x1="591.10" y1="627.10" x2="595.40" y2="627.10" stroke="#111" stroke-width="1.3" />
<text x="587.60" y="630.10" font-size="12.8" text-anchor="end">15</text>
<line x1="591.10" y1="600.90" x2="595.40" y2="600.90" stroke="#111" stroke-width="1.3" />
<text x="587.60" y="603.90" font-size="12.8" text-anchor="end">20</text>
<line x1="615.00" y1="706.10" x2="615.00" y2="710.20" stroke="#111" stroke-width="1.3" />
<line x1="645.10" y1="706.10" x2="645.10" y2="710.20" stroke="#111" stroke-width="1.3" />
<text x="554.40" y="655.20" font-size="12.5" text-anchor="middle" transform="rotate(-90 554.40 655.20)">H3K79me2</text>
<text x="570.30" y="655.60" font-size="12.5" text-anchor="middle" transform="rotate(-90 570.30 655.60)">occupancies</text>
<text x="630.00" y="603.90" font-size="12.5" text-anchor="middle">0.0007</text>
<path d="M615.5,635.5 V615.0 H645.4 V622.0" fill="none" stroke="#111" stroke-width="1.3"/>
<line x1="615.50" y1="642.30" x2="645.40" y2="627.00" stroke="#111" stroke-width="1.6" />
<circle cx="615.50" cy="642.30" r="2.3" fill="#111" />
<circle cx="645.40" cy="627.00" r="2.3" fill="#111" />
<line x1="615.50" y1="647.30" x2="645.40" y2="629.90" stroke="#111" stroke-width="1.6" />
<circle cx="615.50" cy="647.30" r="2.3" fill="#111" />
<circle cx="645.40" cy="629.90" r="2.3" fill="#111" />
<line x1="615.50" y1="654.10" x2="645.40" y2="636.70" stroke="#111" stroke-width="1.6" />
<circle cx="615.50" cy="654.10" r="2.3" fill="#111" />
<circle cx="645.40" cy="636.70" r="2.3" fill="#111" />
<text x="603.20" y="723.40" font-size="12.6">-NT-SARDH</text>
<text x="9.40" y="743.60" font-size="16">L</text>
<text x="106.70" y="752.30" font-size="12" text-anchor="middle" font-weight="bold">TCF1</text>
<line x1="56.50" y1="804.50" x2="56.50" y2="891.50" stroke="#111" stroke-width="1.5" />
<line x1="50.90" y1="890.70" x2="178.30" y2="890.70" stroke="#111" stroke-width="1.5" />
<line x1="51.50" y1="890.70" x2="56.50" y2="890.70" stroke="#111" stroke-width="1.3" />
<text x="41.90" y="894.20" font-size="12.8" text-anchor="middle">0</text>
<line x1="51.50" y1="873.58" x2="56.50" y2="873.58" stroke="#111" stroke-width="1.3" />
<text x="41.90" y="876.60" font-size="12.8" text-anchor="middle">5</text>
<line x1="51.50" y1="856.45" x2="56.50" y2="856.45" stroke="#111" stroke-width="1.3" />
<text x="41.90" y="859.00" font-size="12.8" text-anchor="middle">10</text>
<line x1="51.50" y1="839.33" x2="56.50" y2="839.33" stroke="#111" stroke-width="1.3" />
<text x="41.90" y="841.60" font-size="12.8" text-anchor="middle">15</text>
<line x1="51.50" y1="822.20" x2="56.50" y2="822.20" stroke="#111" stroke-width="1.3" />
<text x="41.90" y="824.30" font-size="12.8" text-anchor="middle">20</text>
<line x1="51.50" y1="805.08" x2="56.50" y2="805.08" stroke="#111" stroke-width="1.3" />
<text x="41.90" y="807.00" font-size="12.8" text-anchor="middle">25</text>
<rect x="65.20" y="852.50" width="15.20" height="38.20" fill="#f5e1b5" stroke="#555" stroke-width="0.9" />
<line x1="72.80" y1="890.70" x2="72.80" y2="894.90" stroke="#111" stroke-width="1.3" />
<rect x="89.50" y="825.50" width="15.20" height="65.20" fill="#f5e1b5" stroke="#555" stroke-width="0.9" />
<line x1="97.10" y1="890.70" x2="97.10" y2="894.90" stroke="#111" stroke-width="1.3" />
<rect x="130.10" y="872.00" width="15.20" height="18.70" fill="#3b7a3b" stroke="#1e2e1e" stroke-width="0.9" />
<line x1="137.70" y1="890.70" x2="137.70" y2="894.90" stroke="#111" stroke-width="1.3" />
<rect x="154.40" y="882.40" width="15.20" height="8.30" fill="#3b7a3b" stroke="#1e2e1e" stroke-width="0.9" />
<line x1="162.00" y1="890.70" x2="162.00" y2="894.90" stroke="#111" stroke-width="1.3" />
<line x1="97.00" y1="822.20" x2="97.00" y2="827.40" stroke="#111" stroke-width="1.3" />
<line x1="93.75" y1="822.20" x2="100.25" y2="822.20" stroke="#111" stroke-width="1.3" />
<line x1="93.75" y1="827.40" x2="100.25" y2="827.40" stroke="#111" stroke-width="1.3" />
<line x1="137.70" y1="863.40" x2="137.70" y2="879.60" stroke="#111" stroke-width="1.3" />
<line x1="134.70" y1="863.40" x2="140.70" y2="863.40" stroke="#111" stroke-width="1.3" />
<line x1="134.70" y1="879.60" x2="140.70" y2="879.60" stroke="#111" stroke-width="1.3" />
<line x1="162.40" y1="878.00" x2="162.40" y2="886.20" stroke="#111" stroke-width="1.3" />
<line x1="159.50" y1="878.00" x2="165.30" y2="878.00" stroke="#111" stroke-width="1.3" />
<line x1="159.50" y1="886.20" x2="165.30" y2="886.20" stroke="#111" stroke-width="1.3" />
<circle cx="67.10" cy="852.40" r="2.1" fill="#111" />
<circle cx="72.80" cy="852.40" r="2.1" fill="#111" />
<circle cx="78.50" cy="852.40" r="2.1" fill="#111" />
<circle cx="90.80" cy="822.60" r="2.1" fill="#111" />
<circle cx="103.10" cy="825.50" r="2.1" fill="#111" />
<circle cx="91.40" cy="827.40" r="2.1" fill="#111" />
<circle cx="137.70" cy="863.40" r="2.1" fill="#111" />
<circle cx="143.00" cy="874.80" r="2.1" fill="#111" />
<circle cx="132.00" cy="877.30" r="2.1" fill="#111" />
<circle cx="162.40" cy="878.00" r="2.1" fill="#111" />
<circle cx="156.30" cy="883.00" r="2.1" fill="#111" />
<circle cx="167.70" cy="883.70" r="2.1" fill="#111" />
<path d="M92.10,779.00 V772.90 H159.10 V797.00" fill="none" stroke="#111" stroke-width="1.4"/>
<path d="M68.40,797.00 V791.90 H134.50 V797.00" fill="none" stroke="#111" stroke-width="1.4"/>
<path d="M68.40,848.30 V812.20 H94.60 V817.00" fill="none" stroke="#111" stroke-width="1.4"/>
<path d="M135.00,858.70 V812.20 H159.70 V875.80" fill="none" stroke="#111" stroke-width="1.4"/>
<text x="106.60" y="770.40" font-size="12.2">&lt;0.0001</text>
<text x="86.40" y="789.40" font-size="12.2">0.0045</text>
<text x="68.00" y="809.00" font-size="12.2">0.0006</text>
<text x="132.00" y="809.00" font-size="12.2">0.1216</text>
<text x="28.40" y="845.40" font-size="12.6" text-anchor="middle" transform="rotate(-90 28.40 845.40)">% of CD8</text>
<text x="77.90" y="906.80" font-size="12.2" text-anchor="end" transform="rotate(-45 77.90 906.80)">-NT</text>
<text x="106.05" y="902.55" font-size="12.2" text-anchor="end" transform="rotate(-45 106.05 902.55)">-SARDH</text>
<text x="144.40" y="907.30" font-size="12.2" text-anchor="end" transform="rotate(-45 144.40 907.30)">-NT</text>
<text x="172.50" y="902.85" font-size="12.2" text-anchor="end" transform="rotate(-45 172.50 902.85)">-SARDH</text>
<text x="166.20" y="743.60" font-size="16">M</text>
<text x="276.40" y="751.00" font-size="12" text-anchor="middle" font-weight="bold">GZMB</text>
<line x1="222.20" y1="805.20" x2="222.20" y2="891.50" stroke="#111" stroke-width="1.5" />
<line x1="216.50" y1="890.70" x2="343.70" y2="890.70" stroke="#111" stroke-width="1.5" />
<line x1="217.00" y1="890.70" x2="222.20" y2="890.70" stroke="#111" stroke-width="1.3" />
<text x="207.60" y="894.00" font-size="12.8" text-anchor="middle">0</text>
<line x1="217.00" y1="869.35" x2="222.20" y2="869.35" stroke="#111" stroke-width="1.3" />
<text x="207.60" y="872.00" font-size="12.8" text-anchor="middle">20</text>
<line x1="217.00" y1="848.00" x2="222.20" y2="848.00" stroke="#111" stroke-width="1.3" />
<text x="207.60" y="850.00" font-size="12.8" text-anchor="middle">40</text>
<line x1="217.00" y1="826.65" x2="222.20" y2="826.65" stroke="#111" stroke-width="1.3" />
<text x="207.60" y="827.80" font-size="12.8" text-anchor="middle">60</text>
<line x1="217.00" y1="805.30" x2="222.20" y2="805.30" stroke="#111" stroke-width="1.3" />
<text x="207.60" y="805.90" font-size="12.8" text-anchor="middle">80</text>
<rect x="230.20" y="838.50" width="15.20" height="52.20" fill="#f5e1b5" stroke="#555" stroke-width="0.9" />
<line x1="237.80" y1="890.70" x2="237.80" y2="894.90" stroke="#111" stroke-width="1.3" />
<rect x="254.50" y="824.30" width="15.20" height="66.40" fill="#f5e1b5" stroke="#555" stroke-width="0.9" />
<line x1="262.10" y1="890.70" x2="262.10" y2="894.90" stroke="#111" stroke-width="1.3" />
<rect x="295.30" y="855.20" width="15.20" height="35.50" fill="#3b7a3b" stroke="#1e2e1e" stroke-width="0.9" />
<line x1="302.90" y1="890.70" x2="302.90" y2="894.90" stroke="#111" stroke-width="1.3" />
<rect x="320.00" y="853.70" width="15.20" height="37.00" fill="#3b7a3b" stroke="#1e2e1e" stroke-width="0.9" />
<line x1="327.60" y1="890.70" x2="327.60" y2="894.90" stroke="#111" stroke-width="1.3" />
<line x1="237.80" y1="835.00" x2="237.80" y2="840.00" stroke="#111" stroke-width="1.3" />
<line x1="234.80" y1="835.00" x2="240.80" y2="835.00" stroke="#111" stroke-width="1.3" />
<line x1="234.80" y1="840.00" x2="240.80" y2="840.00" stroke="#111" stroke-width="1.3" />
<line x1="262.10" y1="819.90" x2="262.10" y2="827.80" stroke="#111" stroke-width="1.3" />
<line x1="259.35" y1="819.90" x2="264.85" y2="819.90" stroke="#111" stroke-width="1.3" />
<line x1="259.35" y1="827.80" x2="264.85" y2="827.80" stroke="#111" stroke-width="1.3" />
<line x1="302.70" y1="849.50" x2="302.70" y2="860.00" stroke="#111" stroke-width="1.3" />
<line x1="299.95" y1="849.50" x2="305.45" y2="849.50" stroke="#111" stroke-width="1.3" />
<line x1="299.95" y1="860.00" x2="305.45" y2="860.00" stroke="#111" stroke-width="1.3" />
<line x1="327.40" y1="848.80" x2="327.40" y2="858.00" stroke="#111" stroke-width="1.3" />
<line x1="324.65" y1="848.80" x2="330.15" y2="848.80" stroke="#111" stroke-width="1.3" />
<line x1="324.65" y1="858.00" x2="330.15" y2="858.00" stroke="#111" stroke-width="1.3" />
<circle cx="232.70" cy="835.00" r="2.1" fill="#111" />
<circle cx="238.70" cy="837.00" r="2.1" fill="#111" />
<circle cx="243.50" cy="838.30" r="2.1" fill="#111" />
<circle cx="232.90" cy="838.00" r="2.1" fill="#111" />
<circle cx="262.10" cy="820.00" r="2.1" fill="#111" />
<circle cx="262.10" cy="824.80" r="2.1" fill="#111" />
<circle cx="262.10" cy="827.50" r="2.1" fill="#111" />
<circle cx="302.70" cy="850.00" r="2.1" fill="#111" />
<circle cx="302.70" cy="855.20" r="2.1" fill="#111" />
<circle cx="302.70" cy="859.80" r="2.1" fill="#111" />
<circle cx="327.40" cy="849.40" r="2.1" fill="#111" />
<circle cx="327.40" cy="853.70" r="2.1" fill="#111" />
<circle cx="327.40" cy="857.50" r="2.1" fill="#111" />
<path d="M258.60,773.60 V768.00 H322.40 V793.20" fill="none" stroke="#111" stroke-width="1.4"/>
<path d="M234.20,792.40 V787.30 H298.80 V792.40" fill="none" stroke="#111" stroke-width="1.4"/>
<path d="M234.20,826.70 V806.60 H258.20 V811.80" fill="none" stroke="#111" stroke-width="1.4"/>
<path d="M298.80,841.60 V806.60 H322.40 V841.60" fill="none" stroke="#111" stroke-width="1.4"/>
<text x="271.00" y="765.60" font-size="12.2">&lt;0.0001</text>
<text x="254.40" y="785.80" font-size="12.2">0.0015</text>
<text x="233.00" y="804.40" font-size="12.2">0.0092</text>
<text x="295.10" y="804.40" font-size="12.2">0.9357</text>
<text x="196.00" y="843.00" font-size="12.6" text-anchor="middle" transform="rotate(-90 196.00 843.00)">% of CD8</text>
<text x="243.50" y="907.15" font-size="12.2" text-anchor="end" transform="rotate(-45 243.50 907.15)">-NT</text>
<text x="270.70" y="902.00" font-size="12.2" text-anchor="end" transform="rotate(-45 270.70 902.00)">-SARDH</text>
<text x="306.60" y="908.05" font-size="12.2" text-anchor="end" transform="rotate(-45 306.60 908.05)">-NT</text>
<text x="333.35" y="902.90" font-size="12.2" text-anchor="end" transform="rotate(-45 333.35 902.90)">-SARDH</text>
<rect x="335.60" y="761.30" width="10.60" height="9.00" fill="#f5e1b5" stroke="#444" stroke-width="0.8" />
<rect x="335.60" y="781.00" width="10.60" height="8.60" fill="#3b7a3b" stroke="#333" stroke-width="0.8" />
<text x="349.20" y="770.30" font-size="12.2">-QNZ</text>
<text x="349.20" y="789.60" font-size="12.2">+QNZ</text>
<text x="385.40" y="743.60" font-size="16">N</text>
<text x="452.00" y="774.40" font-size="12.1">WT</text>
<text x="483.70" y="774.40" font-size="12.1">WT+S</text>
<linearGradient id="g598" x1="0" y1="0" x2="0" y2="1"><stop offset="0" stop-color="#ececec"/><stop offset="1" stop-color="#dedede"/></linearGradient>
<rect x="444.30" y="779.20" width="73.40" height="25.20" fill="url(#g598)" />
<linearGradient id="g600" x1="0" y1="0" x2="0" y2="1"><stop offset="0" stop-color="#ececec"/><stop offset="1" stop-color="#e0e0e0"/></linearGradient>
<rect x="444.30" y="810.30" width="73.40" height="25.10" fill="url(#g600)" />
<linearGradient id="g602" x1="0" y1="0" x2="0" y2="1"><stop offset="0" stop-color="#d6d6d6"/><stop offset="1" stop-color="#cecece"/></linearGradient>
<rect x="444.30" y="848.00" width="73.40" height="24.50" fill="url(#g602)" />
<linearGradient id="g604" x1="0" y1="0" x2="0" y2="1"><stop offset="0" stop-color="#e6e6e6"/><stop offset="1" stop-color="#dcdcdc"/></linearGradient>
<rect x="444.30" y="875.50" width="73.40" height="25.10" fill="url(#g604)" />
<path d="M453.88,789.02 Q463.10,788.38 472.32,789.02 A1.28,1.28 0 0 1 472.32,791.58 Q463.10,792.22 453.88,791.58 A1.28,1.28 0 0 1 453.88,789.02 Z" fill="rgb(76,76,76)" opacity="0.85" filter="url(#bl9)"/>
<path d="M486.74,788.26 Q498.35,787.14 509.96,788.26 A2.24,2.24 0 0 1 509.96,792.74 Q498.35,793.86 486.74,792.74 A2.24,2.24 0 0 1 486.74,788.26 Z" fill="rgb(5,5,5)" opacity="1.0" filter="url(#bl8)"/>
<path d="M453.04,819.06 Q463.05,818.54 473.06,819.06 A3.04,3.04 0 0 1 473.06,825.14 Q463.05,827.66 453.04,825.14 A3.04,3.04 0 0 1 453.04,819.06 Z" fill="rgb(7,7,7)" opacity="1.0" filter="url(#bl11)"/>
<path d="M485.76,818.34 Q497.90,818.06 510.04,818.34 A2.96,2.96 0 0 1 510.04,824.26 Q497.90,826.94 485.76,824.26 A2.96,2.96 0 0 1 485.76,818.34 Z" fill="rgb(7,7,7)" opacity="1.0" filter="url(#bl11)"/>
<path d="M456.44,857.96 Q465.20,856.64 473.96,857.96 A2.64,2.64 0 0 1 473.96,863.24 Q465.20,864.56 456.44,863.24 A2.64,2.64 0 0 1 456.44,857.96 Z" fill="rgb(20,20,20)" opacity="1.0" filter="url(#bl10)"/>
<path d="M488.02,858.18 Q497.50,856.22 506.98,858.18 A2.72,2.72 0 0 1 506.98,863.62 Q497.50,864.38 488.02,863.62 A2.72,2.72 0 0 1 488.02,858.18 Z" fill="rgb(15,15,15)" opacity="1.0" filter="url(#bl10)"/>
<path d="M453.70,885.60 Q463.90,884.20 474.10,885.60 A2.80,2.80 0 0 1 474.10,891.20 Q463.90,892.60 453.70,891.20 A2.80,2.80 0 0 1 453.70,885.60 Z" fill="rgb(5,5,5)" opacity="1.0" filter="url(#bl11)"/>
<path d="M486.40,885.60 Q497.05,884.20 507.70,885.60 A2.80,2.80 0 0 1 507.70,891.20 Q497.05,892.60 486.40,891.20 A2.80,2.80 0 0 1 486.40,885.60 Z" fill="rgb(5,5,5)" opacity="1.0" filter="url(#bl11)"/>
<rect x="444.30" y="779.20" width="73.40" height="25.20" fill="none" stroke="#2a2a2a" stroke-width="1.2" />
<rect x="444.30" y="810.30" width="73.40" height="25.10" fill="none" stroke="#2a2a2a" stroke-width="1.2" />
<rect x="444.30" y="848.00" width="73.40" height="24.50" fill="none" stroke="#2a2a2a" stroke-width="1.2" />
<rect x="444.30" y="875.50" width="73.40" height="25.10" fill="none" stroke="#2a2a2a" stroke-width="1.2" />
<text x="435.10" y="796.40" font-size="12.3" text-anchor="end">pNFκB</text>
<text x="437.40" y="827.45" font-size="12.3" text-anchor="end">GAPDH</text>
<text x="437.40" y="864.85" font-size="12.3" text-anchor="end">NFκB</text>
<text x="437.40" y="892.65" font-size="12.3" text-anchor="end">GAPDH</text>
<text x="519.60" y="795.10" font-size="12.4">65 kD</text>
<text x="519.60" y="826.70" font-size="12.4">37 kD</text>
<text x="519.60" y="866.50" font-size="12.4">65 kD</text>
<text x="519.60" y="892.00" font-size="12.4">37 kD</text>
<text x="560.60" y="744.20" font-size="16">O</text>
<line x1="610.30" y1="774.20" x2="610.30" y2="892.60" stroke="#111" stroke-width="1.4" />
<line x1="609.70" y1="891.90" x2="682.30" y2="891.90" stroke="#111" stroke-width="1.4" />
<line x1="606.30" y1="891.90" x2="610.30" y2="891.90" stroke="#111" stroke-width="1.2" />
<text x="603.70" y="895.80" font-size="12.4" text-anchor="end">0.0</text>
<line x1="606.30" y1="870.14" x2="610.30" y2="870.14" stroke="#111" stroke-width="1.2" />
<text x="603.70" y="874.04" font-size="12.4" text-anchor="end">0.2</text>
<line x1="606.30" y1="848.38" x2="610.30" y2="848.38" stroke="#111" stroke-width="1.2" />
<text x="603.70" y="852.28" font-size="12.4" text-anchor="end">0.4</text>
<line x1="606.30" y1="826.62" x2="610.30" y2="826.62" stroke="#111" stroke-width="1.2" />
<text x="603.70" y="830.52" font-size="12.4" text-anchor="end">0.6</text>
<line x1="606.30" y1="804.86" x2="610.30" y2="804.86" stroke="#111" stroke-width="1.2" />
<text x="603.70" y="808.76" font-size="12.4" text-anchor="end">0.8</text>
<line x1="606.30" y1="783.10" x2="610.30" y2="783.10" stroke="#111" stroke-width="1.2" />
<text x="603.70" y="787.00" font-size="12.4" text-anchor="end">1.0</text>
<rect x="617.20" y="857.30" width="20.10" height="34.60" fill="#9e9da5" stroke="#444" stroke-width="0.9" />
<rect x="652.30" y="789.20" width="19.60" height="102.70" fill="#d8432f" stroke="#444" stroke-width="0.9" />
<line x1="626.90" y1="891.90" x2="626.90" y2="895.40" stroke="#111" stroke-width="1.2" />
<line x1="662.00" y1="891.90" x2="662.00" y2="895.40" stroke="#111" stroke-width="1.2" />
<text x="582.20" y="831.30" font-size="12.4" text-anchor="middle" transform="rotate(-90 582.20 831.30)">pNF-κB/NF-κB</text>
<text x="618.60" y="908.00" font-size="12">WT</text>
<text x="645.60" y="908.00" font-size="12">WT+S</text></svg>
</body></html>
